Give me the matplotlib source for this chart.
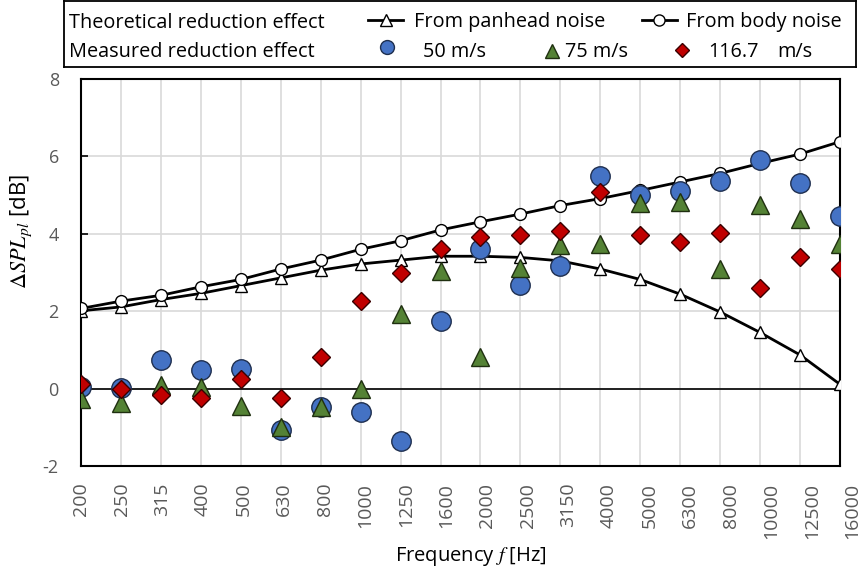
import numpy as np
import matplotlib.pyplot as plt
from matplotlib.transforms import Bbox, TransformedBbox, ScaledTranslation

freqs = ['200', '250', '315', '400', '500', '630', '800', '1000', '1250', '1600',
         '2000', '2500', '3150', '4000', '5000', '6300', '8000', '10000', '12500', '16000']

# theoretical reduction effect
panhead = [2.01, 2.11, 2.30, 2.46, 2.66, 2.86, 3.06, 3.22, 3.32, 3.42,
           3.42, 3.39, 3.30, 3.09, 2.82, 2.44, 1.98, 1.45, 0.87, 0.11]
body = [2.07, 2.26, 2.41, 2.63, 2.82, 3.09, 3.32, 3.60, 3.82, 4.10,
        4.31, 4.51, 4.73, 4.91, 5.12, 5.34, 5.56, 5.82, 6.06, 6.38]

# measured reduction effect
v50 = [0.05, 0.02, 0.75, 0.48, 0.51, -1.07, -0.47, -0.60, -1.35, 1.75,
       3.62, 2.67, 3.17, 5.50, 5.00, 5.11, 5.37, 5.90, 5.30, 4.46]
v75 = [-0.28, -0.38, 0.09, 0.05, -0.44, -1.00, -0.47, -0.02, 1.94, 3.03,
       0.82, 3.12, 3.71, 3.73, 4.79, 4.83, 3.09, 4.74, 4.37, 3.73]
v117 = [0.12, 0.00, -0.17, -0.23, 0.25, -0.25, 0.82, 2.26, 2.99, 3.60,
        3.92, 3.97, 4.08, 5.07, 3.98, 3.78, 4.01, 2.60, 3.39, 3.09]

blue = '#4472C4'
green = '#548235'
red = '#C00000'
grey = '#595959'

plt.rcParams['font.family'] = ['Open Sans', 'DejaVu Sans']
plt.rcParams['mathtext.fontset'] = 'stix'
plt.rcParams['axes.unicode_minus'] = False

fig = plt.figure(figsize=(8.58, 5.77), dpi=100)
ax = fig.add_axes([81/858, 1 - 466/577, (840 - 81)/858, (466 - 79)/577])
x = np.arange(len(freqs))

ax.plot(x, panhead, '-^', color='black', lw=2, ms=8.5, mfc='white', mec='black', mew=1, zorder=4)
ax.plot(x, body, '-o', color='black', lw=2, ms=8.5, mfc='white', mec='black', mew=1, zorder=4)
ax.plot(x, v50, 'o', ms=14, mfc=blue, mec='#1f2f4f', mew=1, ls='none', zorder=5)
ax.plot(x, v75, '^', ms=13, mfc=green, mec='#1f2f10', mew=1, ls='none', zorder=6)
ax.plot(x, v117, 'D', ms=9.5, mfc=red, mec='#3a0000', mew=1, ls='none', zorder=7)

ax.axhline(0, color='black', lw=1.2, zorder=2)
ax.set_xlim(0, len(freqs) - 1)
ax.set_ylim(-2, 8)
ax.set_yticks([-2, 0, 2, 4, 6, 8])
ax.set_xticks(x)
ax.set_xticklabels(freqs, rotation=90, color=grey, fontsize=14)
ax.tick_params(axis='x', length=0, pad=12)
ax.tick_params(axis='y', length=5, width=1.2, direction='in', pad=16,
               labelsize=13, labelcolor=grey)
ax.grid(True, color='#d9d9d9', lw=1.2, zorder=0)
ax.set_axisbelow(True)
for s in ax.spines.values():
    s.set_linewidth(1.5)
    s.set_color('black')

# Excel-like label drift and clipping at the bottom
clip = TransformedBbox(Bbox([[0, 37/577], [1, 1]]), fig.transFigure)
for i, t in enumerate(ax.get_xticklabels()):
    t.set_transform(t.get_transform() + ScaledTranslation(i * 0.65 / 100, 0, fig.dpi_scale_trans))
    t.set_clip_box(clip)
    t.set_clip_on(True)

ax.set_ylabel(r'$\mathit{\Delta SPL_{pl}}$ [dB]', fontsize=16)
ax.yaxis.set_label_coords((34 - 81)/759, (466 - 232)/387)
ax.set_xlabel(r'Frequency $f$ [Hz]', fontsize=14.5)
ax.xaxis.set_label_coords((471 - 81)/759, -(545 - 466)/387)

# legend box drawn in pixel coordinates
lg = fig.add_axes([64/858, 1 - 67/577, (856 - 64)/858, 66/577])
lg.set_xlim(64, 856)
lg.set_ylim(67, 1)
lg.set_xticks([])
lg.set_yticks([])
for s in lg.spines.values():
    s.set_linewidth(1.3)
    s.set_color('black')

fs = 14.3
b1, b2 = 27.5, 57
lg.text(69, b1, 'Theoretical reduction effect', fontsize=fs, va='baseline')
lg.plot([368, 403], [20, 20], '-', color='black', lw=2)
lg.plot([386], [20], '^', ms=8, mfc='white', mec='black')
lg.text(414, b1, 'From panhead noise', fontsize=fs, va='baseline')
lg.plot([642, 677], [20, 20], '-', color='black', lw=2)
lg.plot([659], [20], 'o', ms=8, mfc='white', mec='black')
lg.text(686, b1, 'From body noise', fontsize=fs, va='baseline')

lg.text(69, b2, 'Measured reduction effect', fontsize=fs, va='baseline')
lg.plot([387], [47], 'o', ms=10, mfc=blue, mec='#1f2f4f')
lg.text(423, b2, '50 m/s', fontsize=fs, va='baseline')
lg.plot([552], [51], '^', ms=10, mfc=green, mec='#1f2f10')
lg.text(565, b2, '75 m/s', fontsize=fs, va='baseline')
lg.plot([682], [50], 'D', ms=7, mfc=red, mec='#3a0000')
lg.text(708, b2, '116.7', fontsize=fs, va='baseline')
lg.text(777, b2, 'm/s', fontsize=fs, va='baseline')

fig.savefig('out.png', dpi=100)
